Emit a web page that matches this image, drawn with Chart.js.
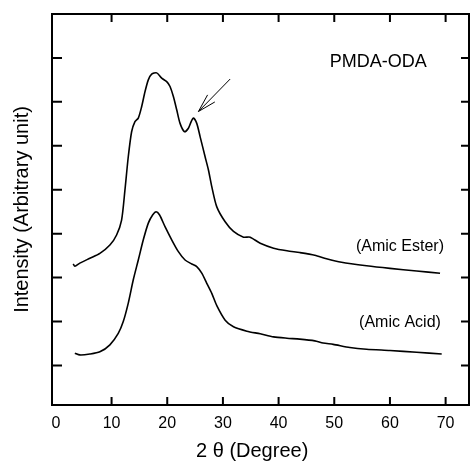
<!DOCTYPE html>
<html>
<head>
<meta charset="utf-8">
<script src="https://cdn.jsdelivr.net/npm/chart.js@4.4.0/dist/chart.umd.min.js"></script>
<style>
    body { margin: 0; background: #fff; }
    #wrap { width: 471px; height: 461px; }
</style>
</head>
<body>
<div id="wrap"><canvas id="xrd" width="471" height="461"></canvas></div>
<script>
// 2 theta values and intensities (arbitrary units, curves offset)
var esterX = [3.1, 3.4, 4.3, 6.1, 7.9, 9.7, 10.9, 11.8, 12.4, 13.0, 13.6, 14.2, 14.8, 15.4, 16.0, 16.6, 17.2, 18.1,
    19.0, 19.9, 20.5, 21.1, 21.7, 22.3, 23.1, 23.8, 24.3, 24.7, 25.3, 25.9, 26.8, 27.4, 28.0, 28.9, 30.4, 31.9,
    33.7, 34.9, 36.7, 39.1, 41.5, 43.8, 46.5, 48.6, 51.3, 55.8, 60.0, 64.8, 69.0];
var esterY = [2.31, 2.26, 2.33, 2.44, 2.55, 2.74, 2.97, 3.31, 3.99, 4.75, 5.32, 5.55, 5.63, 5.89, 6.23, 6.50, 6.63, 6.66,
    6.54, 6.46, 6.35, 6.12, 5.82, 5.51, 5.32, 5.40, 5.55, 5.63, 5.51, 5.21, 4.75, 4.45, 4.07, 3.61, 3.27, 3.05,
    2.92, 2.92, 2.78, 2.67, 2.61, 2.57, 2.51, 2.43, 2.35, 2.27, 2.21, 2.15, 2.10];

var acidX = [3.4, 4.3, 6.1, 7.9, 9.7, 11.2, 12.1, 13.0, 13.9, 14.8, 15.7, 16.6, 17.4, 18.0, 18.6, 19.6, 20.8, 22.0,
    23.2, 24.4, 25.3, 26.2, 27.1, 28.0, 28.9, 30.4, 31.9, 34.3, 36.7, 39.1, 41.5, 43.8, 46.5, 48.0, 49.8, 52.8,
    55.8, 60.0, 64.8, 69.3];
var acidY = [0.28, 0.24, 0.26, 0.31, 0.47, 0.73, 1.00, 1.42, 1.95, 2.40, 2.86, 3.24, 3.43, 3.50, 3.43, 3.16, 2.86, 2.59,
    2.40, 2.31, 2.25, 2.10, 1.87, 1.64, 1.36, 1.03, 0.88, 0.78, 0.72, 0.65, 0.62, 0.60, 0.56, 0.51, 0.48, 0.41,
    0.37, 0.34, 0.30, 0.26];

var xTicks = [0, 10, 20, 30, 40, 50, 60, 70];
var yTicks = [0, 1, 2, 3, 4, 5, 6, 7];

var notes = [
    { x: 57.9, y: 6.91, text: 'PMDA-ODA', size: 18 },
    { x: 61.8, y: 2.70, text: '(Amic Ester)', size: 16 },
    { x: 61.8, y: 0.97, text: '(Amic Acid)', size: 16 }
];
var arrowFrom = [31.3, 6.52];
var arrowTo = [25.6, 5.78];

var FONT = '"Liberation Sans", Arial, sans-serif';

function toPoints(xs, ys) {
    var pts = [];
    for (var i = 0; i < xs.length; i++) {
        pts.push({ x: xs[i], y: ys[i] });
    }
    return pts;
}

function setTicks(values) {
    return function(scale) {
        scale.ticks = values.map(function(v) { return { value: v }; });
    };
}

// frame, inward tick marks, labels and the arrow
var decor = {
    id: 'decor',
    afterDraw: function(chart) {
        var ctx = chart.ctx;
        var a = chart.chartArea;
        var xs = chart.scales.x;
        var ys = chart.scales.y;
        ctx.save();
        ctx.strokeStyle = '#000';
        ctx.lineWidth = 2;
        ctx.strokeRect(a.left, a.top, a.right - a.left, a.bottom - a.top);
        ctx.beginPath();
        for (var i = 1; i < xTicks.length; i++) {
            var px = xs.getPixelForValue(xTicks[i]);
            ctx.moveTo(px, a.bottom); ctx.lineTo(px, a.bottom - 8);
            ctx.moveTo(px, a.top); ctx.lineTo(px, a.top + 8);
        }
        for (var j = 0; j < yTicks.length; j++) {
            var py = ys.getPixelForValue(yTicks[j]);
            ctx.moveTo(a.left, py); ctx.lineTo(a.left + 10, py);
            ctx.moveTo(a.right, py); ctx.lineTo(a.right - 8, py);
        }
        ctx.stroke();

        ctx.fillStyle = '#000';
        ctx.textAlign = 'center';
        ctx.textBaseline = 'middle';
        notes.forEach(function(n) {
            ctx.font = n.size + 'px ' + FONT;
            ctx.fillText(n.text, xs.getPixelForValue(n.x), ys.getPixelForValue(n.y));
        });

        var x1 = xs.getPixelForValue(arrowFrom[0]), y1 = ys.getPixelForValue(arrowFrom[1]);
        var x2 = xs.getPixelForValue(arrowTo[0]), y2 = ys.getPixelForValue(arrowTo[1]);
        var ang = Math.atan2(y1 - y2, x1 - x2);
        var head = 19, spread = 0.27;
        ctx.lineWidth = 1;
        ctx.beginPath();
        ctx.moveTo(x1, y1); ctx.lineTo(x2, y2);
        ctx.moveTo(x2 + head * Math.cos(ang - spread), y2 + head * Math.sin(ang - spread));
        ctx.lineTo(x2, y2);
        ctx.lineTo(x2 + head * Math.cos(ang + spread), y2 + head * Math.sin(ang + spread));
        ctx.stroke();
        ctx.restore();
    }
};

var context = document.getElementById('xrd').getContext('2d');
var chart = new Chart(context, {
    type: 'line',
    data: {
        datasets: [
            {
                label: 'Amic Ester',
                data: toPoints(esterX, esterY),
                borderColor: '#000',
                borderWidth: 1.6,
                pointRadius: 0,
                tension: 0.25,
                fill: false
            },
            {
                label: 'Amic Acid',
                data: toPoints(acidX, acidY),
                borderColor: '#000',
                borderWidth: 1.6,
                pointRadius: 0,
                tension: 0.25,
                fill: false
            }
        ]
    },
    options: {
        responsive: false,
        animation: false,
        layout: { padding: { top: 14, right: 2, left: 0, bottom: 0 } },
        plugins: {
            legend: { display: false },
            tooltip: { enabled: false }
        },
        scales: {
            x: {
                type: 'linear',
                min: -0.7,
                max: 74.2,
                afterBuildTicks: setTicks(xTicks),
                afterFit: function(scale) { scale.height = 56; },
                grid: { display: false },
                border: { display: false },
                ticks: {
                    color: '#000',
                    padding: 1,
                    maxRotation: 0,
                    font: { family: FONT, size: 16 }
                },
                title: {
                    display: true,
                    text: '2 \u03b8 (Degree)\u00a0\u00a0\u00a0',
                    color: '#000',
                    padding: 0,
                    font: { family: FONT, size: 20, lineHeight: 1 }
                }
            },
            y: {
                type: 'linear',
                min: -0.9,
                max: 8,
                afterBuildTicks: setTicks(yTicks),
                afterFit: function(scale) { scale.width = 52; },
                grid: { display: false },
                border: { display: false },
                ticks: { display: false },
                title: {
                    display: true,
                    text: 'Intensity (Arbitrary unit)',
                    color: '#000',
                    padding: { top: 12, bottom: 0 },
                    font: { family: FONT, size: 20, lineHeight: 1 }
                }
            }
        }
    },
    plugins: [decor]
});
</script>
</body>
</html>
